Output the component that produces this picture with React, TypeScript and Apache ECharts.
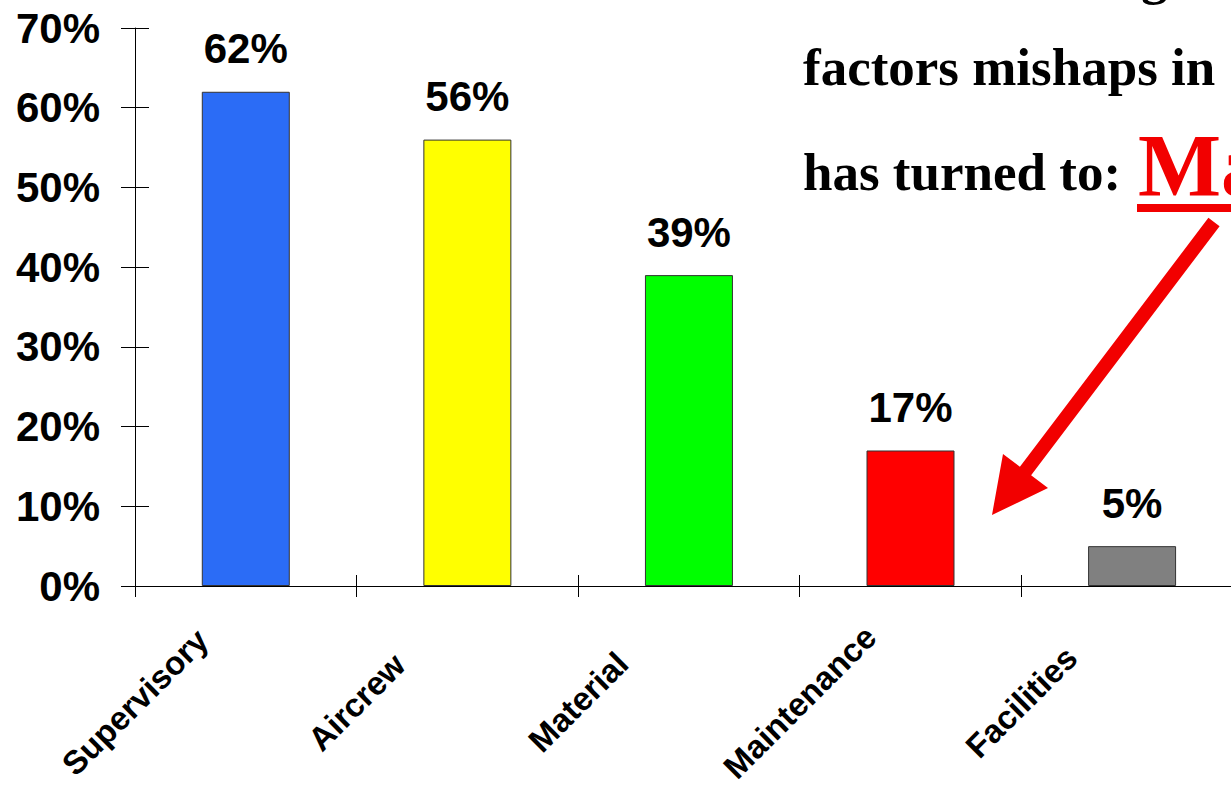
import React, { useEffect, useRef } from "react";
import * as echarts from "echarts";

const categories = ["Supervisory", "Aircrew", "Material", "Maintenance", "Facilities"];
const percentages = [62, 56, 39, 17, 5];
const barColors = ["#2B6CF6", "#FFFF00", "#00FF00", "#FF0000", "#808080"];
const yTicks = [0, 10, 20, 30, 40, 50, 60, 70];
const headlineLines = ["Leading human", "factors mishaps in", "has turned to:"];
const highlightWord = "Maintenance";

export default function App() {
  const ref = useRef<HTMLDivElement>(null);
  useEffect(() => {
    if (!ref.current) return;
    const chart = echarts.init(ref.current, null, { renderer: "svg" });
    const sans = "Liberation Sans";
    const serif = "Liberation Serif";
    const red = "#F20000";
    const option: any = {
      animation: false,
      backgroundColor: "#ffffff",
      grid: { left: 135, right: 0, top: 28, bottom: 208, containLabel: false },
      xAxis: [
        {
          type: "category",
          data: categories,
          position: "bottom",
          boundaryGap: true,
          axisLine: { show: true, lineStyle: { color: "#000", width: 1 } },
          axisTick: { show: true, inside: false, length: 11, lineStyle: { color: "#000" } },
          axisLabel: { show: false },
          splitLine: { show: false },
        },
        {
          type: "value",
          position: "bottom",
          min: 0,
          max: categories.length,
          interval: 1,
          axisLine: { show: false },
          axisTick: { show: true, inside: true, length: 11, lineStyle: { color: "#000" } },
          splitLine: { show: false },
          axisLabel: {
            show: true,
            rotate: 45,
            align: "center",
            verticalAlign: "middle",
            margin: 116,
            fontFamily: sans,
            fontWeight: "bold",
            fontSize: 33,
            color: "#000",
            formatter: (v: number) => categories[Math.round(v)] ?? "",
          },
        },
      ],
      yAxis: [
        {
          type: "value",
          position: "left",
          min: yTicks[0],
          max: yTicks[yTicks.length - 1],
          interval: 10,
          axisLine: { show: true, lineStyle: { color: "#000", width: 1 } },
          axisTick: { show: true, inside: false, length: 14, lineStyle: { color: "#000" } },
          splitLine: { show: false },
          axisLabel: {
            margin: 35,
            fontFamily: sans,
            fontWeight: "bold",
            fontSize: 42,
            color: "#000",
            formatter: "{value}%",
          },
        },
        {
          type: "value",
          position: "left",
          min: yTicks[0],
          max: yTicks[yTicks.length - 1],
          interval: 10,
          axisLine: { show: false },
          axisTick: { show: true, inside: true, length: 14, lineStyle: { color: "#000" } },
          splitLine: { show: false },
          axisLabel: { show: false },
        },
      ],
      series: [
        {
          type: "bar",
          xAxisIndex: 0,
          yAxisIndex: 0,
          barWidth: 88,
          data: percentages.map((v, i) => ({
            value: v,
            itemStyle: { color: barColors[i], borderColor: "#333", borderWidth: 1 },
          })),
          label: {
            show: true,
            position: "top",
            distance: 22,
            fontFamily: sans,
            fontWeight: "bold",
            fontSize: 42,
            color: "#000",
            formatter: "{c}%",
          },
        },
      ],
      graphic: [
        {
          type: "text",
          x: 982,
          y: -24,
          style: { text: headlineLines[0], font: `bold 53px "${serif}"`, fill: "#000", verticalAlign: "middle", align: "left" },
        },
        {
          type: "text",
          x: 803,
          y: 67,
          style: { text: headlineLines[1], font: `bold 53px "${serif}"`, fill: "#000", verticalAlign: "middle", align: "left" },
        },
        {
          type: "text",
          x: 803,
          y: 172,
          style: { text: headlineLines[2], font: `bold 53px "${serif}"`, fill: "#000", verticalAlign: "middle", align: "left" },
        },
        {
          type: "text",
          x: 1138,
          y: 165,
          style: { text: highlightWord, font: `bold 88px "${serif}"`, fill: red, verticalAlign: "middle", align: "left" },
        },
        {
          type: "rect",
          shape: { x: 1137, y: 204, width: 120, height: 8 },
          style: { fill: red },
        },
        {
          type: "polygon",
          shape: {
            points: [
              [1208.4, 217.8],
              [1219.6, 226.2],
              [1031.1, 475.2],
              [1048, 488],
              [992, 515],
              [1003, 454],
              [1019.9, 466.8],
            ],
          },
          style: { fill: red },
        },
      ],
    };
    chart.setOption(option);
    return () => chart.dispose();
  }, []);
  return (
    <div
      ref={ref}
      style={{ position: "fixed", left: 0, top: 0, width: 1245, height: 794, background: "#fff" }}
    />
  );
}
